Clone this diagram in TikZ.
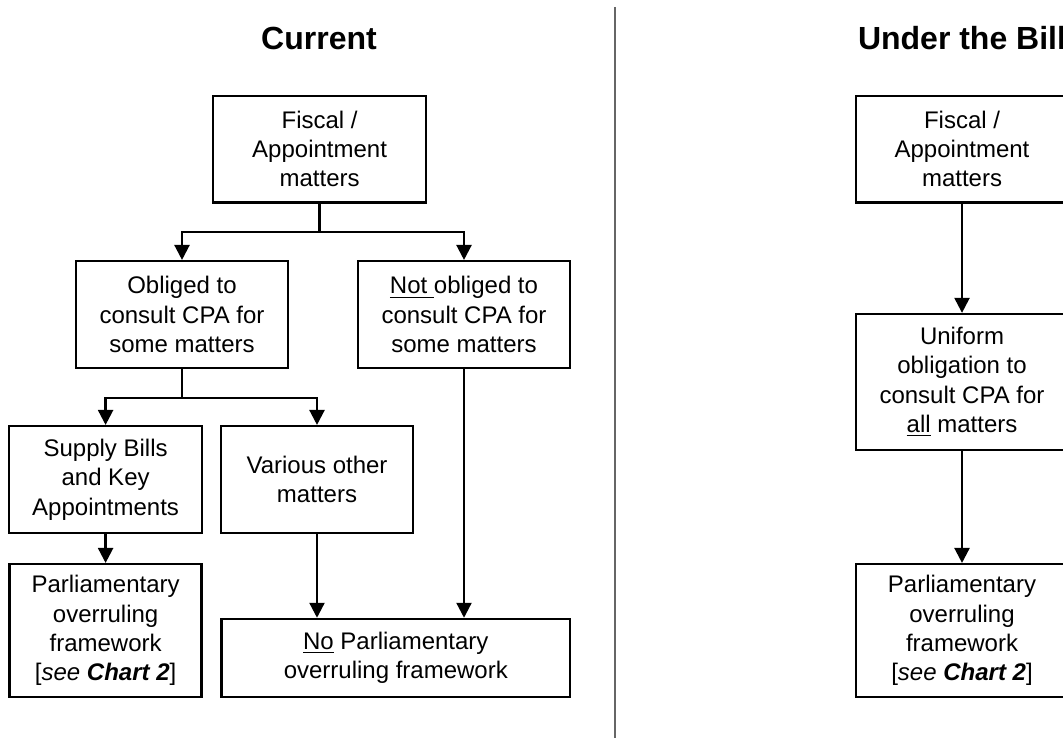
\documentclass[tikz,border=0pt]{standalone}
\usepackage{fontspec}
\setmainfont{Liberation Sans}
\usepackage{tikz}
\usetikzlibrary{arrows.meta}

\begin{document}
\begin{tikzpicture}[x=1pt,y=-1pt,
    box/.style={draw,line width=1.15pt,align=center,inner sep=0pt,
      font=\fontsize{12}{14.6}\selectfont},
    arr/.style={line width=1.15pt,-{Triangle[width=7.5pt,length=7.5pt]}},
    title/.style={font=\bfseries\fontsize{16}{19}\selectfont}]
      \useasboundingbox (0,0) rectangle (531.5,369);
      \clip (0,0) rectangle (531.5,369);
      % left half: current
      \node[title] (curT) at (159.5,19) {Current};
      \node[box,minimum width=106.5pt,minimum height=53.3pt] (fiscL) at (159.8,74.6)
          {Fiscal /\\Appointment\\matters};
      \node[box,minimum width=106pt,minimum height=53.5pt] (oblig) at (91,157.3)
          {Obliged to\\consult CPA for\\some matters};
      \node[box,minimum width=106pt,minimum height=53.5pt] (notob) at (232,157.3)
          {\underline{Not }obliged to\\consult CPA for\\some matters};
      \node[box,minimum width=96.5pt,minimum height=53.5pt] (supply) at (52.8,239.8)
          {Supply Bills\\and Key\\Appointments};
      \node[box,minimum width=96pt,minimum height=53.5pt] (various) at (158.5,239.8)
          {Various other\\matters};
      \node[box,minimum width=96pt,minimum height=66.3pt] (parlL) at (52.8,315.2)
          {Parliamentary\\overruling\\framework\\{}[\textit{see} \textbf{\textit{Chart 2}}]};
      \node[box,minimum width=174.2pt,minimum height=38.9pt] (noparl) at (197.9,328.9)
          {\underline{No} Parliamentary\\overruling framework};
      \coordinate (jA) at (159.8,115.9);
      \coordinate (jB) at (91,198.9);
      \draw[line width=1.15pt] (fiscL.south) -- (jA);
      \draw[arr] (jA) -| (oblig.north);
      \draw[arr] (jA) -| (notob.north);
      \draw[line width=1.15pt] (oblig.south) -- (jB);
      \draw[arr] (jB) -| (supply.north);
      \draw[arr] (jB) -| (various.north);
      \draw[arr] (supply.south) -- (parlL.north);
      \draw[arr] (various.south) -- (various.south |- noparl.north);
      \draw[arr] (notob.south) -- (notob.south |- noparl.north);
      % divider
      \draw[line width=1pt,gray!80!black] (307.5,3.5) -- (307.5,369);
      % right half: under the bill
      \node[title] (billT) at (481,19) {Under the Bill};
      \node[box,minimum width=106pt,minimum height=53.3pt] (fiscR) at (481,74.6)
          {Fiscal /\\Appointment\\matters};
      \node[box,minimum width=106pt,minimum height=68pt] (unif) at (481,191)
          {Uniform\\obligation to\\consult CPA for\\\underline{all} matters};
      \node[box,minimum width=106pt,minimum height=66.3pt] (parlR) at (481,315.2)
          {Parliamentary\\overruling\\framework\\{}[\textit{see} \textbf{\textit{Chart 2}}]};
      \draw[arr] (fiscR) -- (unif);
      \draw[arr] (unif) -- (parlR);
\end{tikzpicture}
\end{document}
